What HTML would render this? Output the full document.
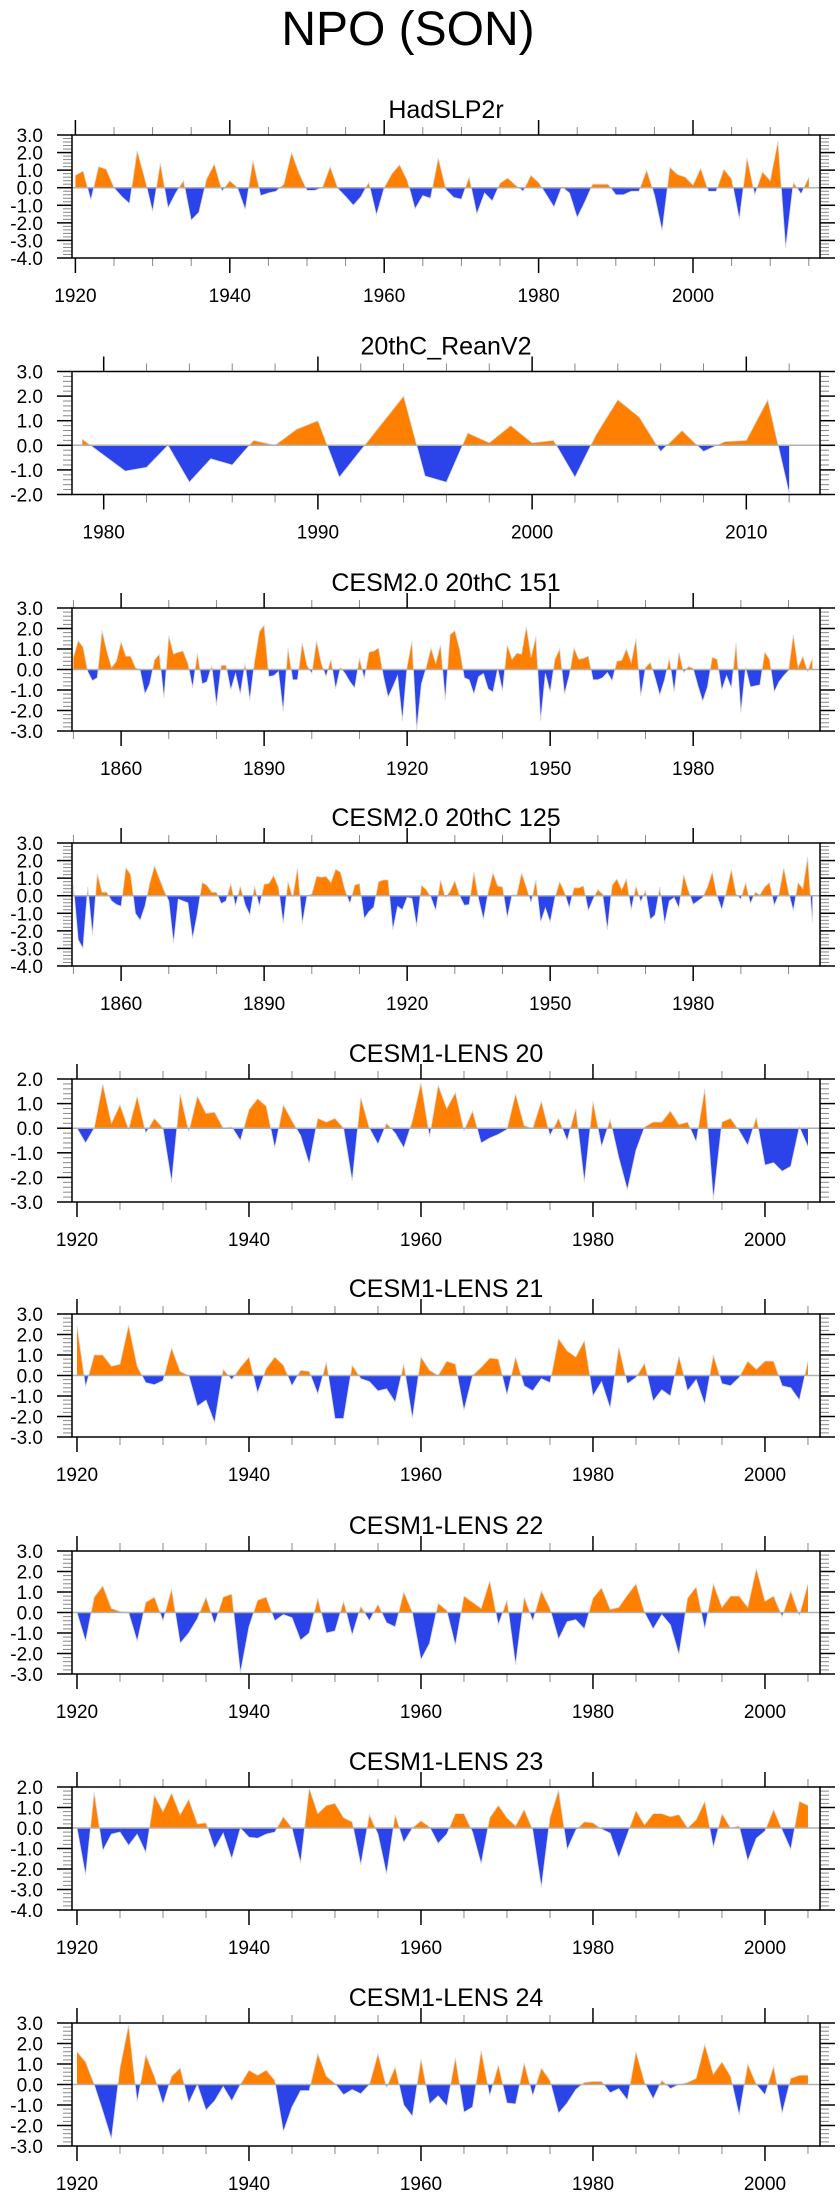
<!DOCTYPE html>
<html><head><meta charset="utf-8"><style>
html,body{margin:0;padding:0;background:#fff;}
svg{display:block;font-family:"Liberation Sans",Arial,sans-serif;}
</style></head><body>
<svg id="chart" width="840" height="2200" viewBox="0 0 840 2200" xmlns="http://www.w3.org/2000/svg">
<text x="408" y="45" font-size="48" text-anchor="middle">NPO (SON)</text>
</svg>
<script>
const hadValues=[0.7,0.95,-0.7,1.2,1.05,0.0,-0.5,-0.9,2.1,0.5,-1.35,1.4,-1.15,-0.3,0.4,-1.85,-1.4,0.5,1.35,-0.2,0.4,0.0,-1.25,1.55,-0.45,-0.3,-0.2,0.2,2.0,0.8,-0.15,-0.15,0.0,1.2,-0.05,-0.5,-1.0,-0.5,0.3,-1.55,0.0,0.8,1.3,0.4,-1.2,-0.45,-0.6,1.7,-0.1,-0.55,-0.65,0.6,-1.5,-0.3,-0.75,0.25,0.55,0.15,-0.2,0.7,0.3,-0.4,-1.1,0.05,-0.3,-1.7,-0.8,0.2,0.2,0.2,-0.4,-0.4,-0.2,-0.2,1.0,-0.4,-2.45,1.15,0.75,0.6,0.15,1.1,-0.2,-0.2,1.05,0.5,-1.8,1.7,-0.4,0.9,0.4,2.65,-3.45,0.3,-0.35,0.6];
const reanValues=[0.25,-0.4,-1.05,-0.9,0.0,-1.5,-0.55,-0.8,0.2,0.0,0.65,1.0,-1.3,-0.2,0.9,2.0,-1.25,-1.5,0.5,0.1,0.8,0.1,0.2,-1.3,0.45,1.85,1.15,-0.25,0.6,-0.25,0.15,0.2,1.85,-1.95];
const cesm2m151Values=[0.6,1.4,1.1,-0.1,-0.55,-0.4,1.9,0.9,0.1,0.4,1.35,0.65,0.65,0.1,-0.05,-1.2,-0.7,0.45,0.75,-1.4,1.65,0.75,0.85,0.9,0.3,-0.9,0.8,-0.7,-0.6,0.2,-1.75,0.2,0.2,-1.0,-0.2,-1.2,0.3,-1.5,0.4,1.85,2.15,-0.35,-0.3,-0.1,-2.05,1.05,-0.5,-0.5,1.3,0.2,-0.2,1.4,0.3,-0.35,0.5,-0.95,0.1,-0.2,-0.6,-0.9,0.55,-0.45,0.85,0.9,1.05,-0.3,-1.35,-0.85,-0.3,-2.5,0.15,1.4,-2.95,-0.7,0.1,1.05,0.3,1.2,-1.5,1.7,1.9,1.0,-0.4,-0.5,-1.2,-0.35,-0.2,-0.95,-1.1,0.05,-1.05,1.2,0.5,0.8,0.75,2.1,0.6,1.6,-2.5,-0.2,-1.1,0.5,1.0,-1.2,-0.3,1.05,0.5,0.55,0.65,-0.5,-0.5,-0.4,-0.15,-0.55,0.4,0.45,1.0,0.35,1.5,-1.3,0.1,0.35,-0.4,-1.25,-0.5,0.55,-1.1,0.85,-0.15,0.15,0.05,-0.8,-1.55,-0.85,0.6,0.5,-1.0,-0.3,-0.9,1.3,-2.1,0.1,-0.85,-0.8,-0.75,0.85,0.5,-1.1,-0.6,-0.3,-0.05,1.7,0.1,0.65,-0.1,0.55];
const cesm2m125Values=[0.6,-2.5,-3.0,0.5,-2.25,1.25,0.2,0.2,-0.3,-0.5,-0.6,1.6,1.2,-1.0,-1.4,-0.6,0.7,1.7,1.0,0.3,-0.3,-2.7,-0.2,-0.3,-0.4,-2.45,-1.0,0.75,0.6,0.2,0.2,-0.45,-0.3,0.7,-0.6,0.55,-0.5,-1.1,0.55,-0.6,0.65,0.7,1.15,0.5,-1.6,0.8,-0.1,1.6,-1.6,0.0,0.1,1.1,1.05,1.1,0.75,1.5,1.35,0.3,-0.45,0.6,0.7,-1.3,-0.9,-0.65,0.8,0.9,0.9,-1.95,-0.6,-0.8,-0.1,-0.15,-1.75,0.6,0.35,-0.1,-0.85,0.9,-0.1,0.25,0.85,0.0,-0.55,-0.5,1.35,-0.2,-1.35,0.2,1.3,0.55,0.5,-1.25,0.05,0.05,1.3,0.5,-0.4,0.9,-1.5,-0.7,-1.5,-0.1,0.8,0.2,-0.7,0.45,0.45,0.55,-0.85,-0.2,0.35,0.1,-1.95,0.6,0.95,0.35,0.95,-0.8,0.55,-0.35,0.3,-1.35,-1.1,0.5,-1.6,-0.3,-0.1,-0.7,1.2,0.3,-0.5,-0.3,-0.1,0.5,1.35,0.0,-0.8,0.3,1.5,0.1,-0.2,0.75,-0.45,0.2,0.05,0.5,0.75,-0.55,0.1,1.6,0.2,-0.85,0.75,0.4,2.2,-1.5];
const lens20Values=[0.0,-0.6,0.0,1.8,0.2,0.95,-0.05,1.3,-0.2,0.4,0.0,-2.2,1.4,-0.15,1.3,0.6,0.65,0.0,0.05,-0.5,0.75,1.2,0.9,-0.8,0.95,0.3,-0.3,-1.45,0.4,0.25,0.4,0.0,-2.15,1.25,0.0,-0.65,0.2,-0.2,-0.8,0.3,1.85,-0.35,1.75,0.8,1.45,-0.1,0.7,-0.6,-0.4,-0.25,-0.05,1.4,0.1,0.0,1.1,-0.3,0.4,-0.5,0.8,-2.2,1.1,-0.75,0.35,-1.2,-2.5,-0.9,0.05,0.25,0.25,0.7,0.15,0.25,-0.55,1.6,-2.9,0.25,0.4,-0.1,-0.7,0.45,-1.5,-1.4,-1.75,-1.55,0.05,-0.75];
const lens21Values=[2.45,-0.55,1.0,1.0,0.45,0.55,2.45,0.45,-0.35,-0.45,-0.25,1.35,0.2,0.0,-1.5,-1.2,-2.3,0.3,-0.2,0.4,0.9,-0.85,0.35,0.9,0.5,-0.5,0.25,0.2,-0.9,0.65,-2.1,-2.1,0.5,-0.15,-0.3,-0.75,-0.65,-1.3,0.55,-2.1,0.9,0.25,0.0,0.7,0.55,-1.7,0.0,0.4,0.85,0.8,-0.95,0.9,-0.5,-0.75,-0.15,-0.35,1.8,1.2,0.9,1.7,-1.0,-0.3,-1.6,1.4,-0.4,-0.1,0.6,-1.25,-0.7,-1.0,0.95,-0.75,-0.2,-1.4,1.0,-0.4,-0.5,-0.1,0.7,0.3,0.7,0.7,-0.5,-0.6,-1.2,0.7];
const lens22Values=[0.0,-1.4,0.75,1.3,0.2,0.05,0.0,-1.4,0.5,0.75,-0.4,1.15,-1.5,-1.0,-0.3,0.75,-0.55,0.75,0.9,-2.95,-0.7,0.6,0.75,-0.4,-0.1,-0.25,-1.35,-1.0,0.7,-1.0,-0.9,0.55,-1.1,0.3,-0.4,0.4,-0.5,-0.7,1.0,0.0,-2.3,-1.5,0.45,0.1,-1.6,0.8,0.5,0.2,1.55,-0.6,0.6,-2.55,0.75,-0.4,1.05,0.2,-1.3,-0.45,-0.35,-0.8,0.7,1.2,0.15,0.25,0.85,1.4,0.0,-0.8,-0.1,-0.6,-2.05,0.7,1.25,-0.8,1.4,0.25,0.8,0.8,0.25,2.15,0.55,0.8,-0.2,1.05,-0.15,1.4];
const lens23Values=[0.0,-2.3,1.75,-1.1,-0.3,-0.2,-0.85,-0.3,-1.2,1.6,0.8,1.7,0.65,1.4,0.2,0.25,-1.0,-0.25,-1.5,0.0,-0.45,-0.5,-0.3,-0.2,0.55,0.0,-1.7,1.95,0.7,1.1,1.2,0.5,0.3,-1.8,0.65,-0.3,-2.25,0.65,-0.7,0.0,0.35,0.05,-0.75,-0.3,0.7,0.7,-0.2,-1.75,0.5,1.1,0.5,0.1,0.9,-0.1,-2.9,0.5,1.85,-1.05,-0.1,0.3,0.25,-0.05,-0.25,-1.45,-0.3,0.85,0.15,0.7,0.7,0.55,0.65,0.0,0.4,1.3,-0.95,0.7,0.0,0.1,-1.6,-0.5,-0.15,0.9,-0.1,-1.05,1.3,1.1];
const lens24Values=[1.6,1.1,0.0,-1.3,-2.65,0.8,2.9,-0.85,1.45,0.4,-0.95,0.4,0.8,-0.9,0.0,-1.25,-0.8,-0.1,-0.8,0.0,0.7,0.45,0.7,0.2,-2.3,-1.1,-0.3,-0.3,1.5,0.4,0.05,-0.5,-0.25,-0.45,0.0,1.5,-0.15,0.85,-1.0,-1.55,1.25,-0.95,-0.55,-1.05,1.3,-1.35,-1.1,1.65,-0.55,0.95,-0.9,-0.95,1.05,-0.55,0.8,0.2,-1.4,-0.9,-0.25,0.1,0.15,0.15,-0.4,-0.2,-0.75,1.6,0.1,-0.7,0.2,-0.2,0.0,0.1,0.3,1.95,0.5,1.1,0.4,-1.5,1.0,0.0,-0.5,0.9,-1.4,0.3,0.45,0.45];
const panelTitles=["HadSLP2r","20thC_ReanV2","CESM2.0 20thC 151","CESM2.0 20thC 125","CESM1-LENS 20","CESM1-LENS 21","CESM1-LENS 22","CESM1-LENS 23","CESM1-LENS 24"];
const startYears=[1920,1979,1850,1850,1920,1920,1920,1920,1920];
const yMax=[3,3,3,3,2,3,3,2,3];
const yMin=[-4,-2,-3,-4,-3,-3,-3,-4,-3];
const seriesList=[hadValues,reanValues,cesm2m151Values,cesm2m125Values,lens20Values,lens21Values,lens22Values,lens23Values,lens24Values];

const NS="http://www.w3.org/2000/svg";
const svg=document.getElementById('chart');
const tops=[135,371.5,608,843,1079,1314,1551,1787,2023];
const xRanges=[[1919.56,2016.45],[1978.52,2013.44],[1849.7,2006.6],[1849.7,2006.6],[1919.42,2006.4],[1919.42,2006.4],[1919.42,2006.4],[1919.42,2006.4],[1919.42,2006.4]];
const tickCfg=[[5,20,1920],[2,10,1980],[10,30,1860],[10,30,1860],[5,20,1920],[5,20,1920],[5,20,1920],[5,20,1920],[5,20,1920]];
const L=72,R=820,H=123;
function mk(tag,attrs,parent){const e=document.createElementNS(NS,tag);for(const k in attrs)e.setAttribute(k,attrs[k]);(parent||svg).appendChild(e);return e;}

seriesList.forEach((vals,p)=>{
  const top=tops[p],bot=top+H;
  const g=mk('g',{});
  
  
  const [x0,x1]=xRanges[p];
  const xs=yr=>L+(yr-x0)/(x1-x0)*(R-L);
  const ys=v=>top+(yMax[p]-v)/(yMax[p]-yMin[p])*H;
  const t=mk('text',{x:(L+R)/2,y:top-17,'font-size':25,'text-anchor':'middle'},g);
  t.textContent=panelTitles[p];
  
  
  const y0=ys(0);
  const cid='c'+p;
  const defs=mk('defs',{},g);
  const cu=mk('clipPath',{id:cid+'u'},defs);mk('rect',{x:L,y:top,width:R-L,height:y0-top},cu);
  const cd=mk('clipPath',{id:cid+'d'},defs);mk('rect',{x:L,y:y0,width:R-L,height:bot-y0},cd);
  const pts=vals.map((v,i)=>xs(startYears[p]+i).toFixed(2)+','+ys(v).toFixed(2));
  const xa=xs(startYears[p]).toFixed(2),xb=xs(startYears[p]+vals.length-1).toFixed(2);
  const poly=xa+','+y0+' '+pts.join(' ')+' '+xb+','+y0;
  const pos=mk('polygon',{points:poly,fill:'#ff8000','clip-path':'url(#'+cid+'u)'},g);
  
  
  const neg=mk('polygon',{points:poly,fill:'#2a44ea','clip-path':'url(#'+cid+'d)'},g);
  
  
  mk('polyline',{points:pts.join(' '),fill:'none',stroke:'#d8d8d8','stroke-width':0.8},g);
  const zl=mk('line',{x1:L,x2:R,y1:y0,y2:y0,stroke:'#b0b0b0','stroke-width':1.5},g);
  
  
  // y ticks
  for(let v=yMin[p];v<=yMax[p]+1e-6;v+=0.2){
    const vv=Math.round(v*10)/10,y=ys(vv),maj=Math.abs(vv-Math.round(vv))<1e-6;
    const len=maj?15:9;
    mk('line',{x1:L-len,x2:L,y1:y,y2:y,stroke:maj?'#000':'#888','stroke-width':maj?1.5:1},g);
    mk('line',{x1:R,x2:R+len,y1:y,y2:y,stroke:maj?'#000':'#888','stroke-width':maj?1.5:1},g);
    if(maj){const lt=mk('text',{x:43,y:y+7,'font-size':19,'text-anchor':'end'},g);lt.textContent=vv.toFixed(1);
      
      }
  }
  // x ticks
  const [mn,mj,lab0]=tickCfg[p];
  const firstT=Math.ceil(x0/mn)*mn;
  for(let yr=firstT;yr<=x1;yr+=mn){
    const x=xs(yr),maj=((yr-lab0)%mj+mj)%mj===0;
    const len=maj?15:8;
    mk('line',{x1:x,x2:x,y1:top-len,y2:top,stroke:maj?'#000':'#888','stroke-width':maj?1.5:1},g);
    mk('line',{x1:x,x2:x,y1:bot,y2:bot+len,stroke:maj?'#000':'#888','stroke-width':maj?1.5:1},g);
    if(maj&&yr>=lab0){const xt=mk('text',{x:x,y:bot+44,'font-size':19,'text-anchor':'middle'},g);xt.textContent=yr;
      
      }
  }
  const fr=mk('rect',{x:L,y:top,width:R-L,height:H,fill:'none',stroke:'#000','stroke-width':1.5},g);
  
  
});
</script>
</body></html>
